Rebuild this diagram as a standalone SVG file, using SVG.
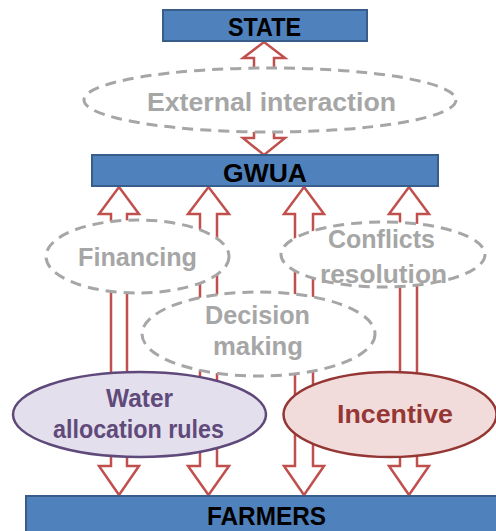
<svg xmlns="http://www.w3.org/2000/svg" width="496" height="531" viewBox="0 0 496 531">
<style>
.box{fill:#4F81BD;stroke:#385D8A;stroke-width:2}
.arr{fill:#FFFFFF;stroke:#C0504D;stroke-width:2.5;stroke-linejoin:miter}
.dash{fill:#FFFFFF;stroke:#A6A6A6;stroke-width:3;stroke-dasharray:11 7}
text{font-family:"Liberation Sans",Arial,sans-serif;font-weight:bold;font-size:25px;text-anchor:middle}
.bt{fill:#000000;font-size:26px}
.gt{fill:#A6A6A6}
.wt{fill:#604A7B}
.it{fill:#953735}
</style>
<rect width="496" height="531" fill="#FFFFFF"/>
<g id="connectors">
<path class="arr" d="M264,42 L285,58 L274,58 L274,138 L285,138 L264,155 L243,138 L254,138 L254,58 L243,58 Z"/>
<path class="arr" d="M119,187 L139,214 L127,214 L127,466 L139,466 L119,495 L99,466 L111,466 L111,214 L99,214 Z"/>
<path class="arr" d="M208.5,187 L229,214 L217,214 L217,466 L229,466 L208.5,495 L188,466 L200,466 L200,214 L188,214 Z"/>
<path class="arr" d="M304,187 L324,214 L313,214 L313,466 L324,466 L304,495 L284,466 L295,466 L295,214 L284,214 Z"/>
<path class="arr" d="M409,187 L429,214 L417,214 L417,466 L429,466 L409,495 L389,466 L400,466 L400,214 L389,214 Z"/>
</g>
<g id="state">
<rect class="box" x="163" y="10" width="204" height="31"/>
<text class="bt" x="264.5" y="36" textLength="73" lengthAdjust="spacingAndGlyphs">STATE</text>
</g>
<g id="gwua">
<rect class="box" x="92" y="155" width="346" height="31"/>
<text class="bt" x="265" y="182" textLength="84" lengthAdjust="spacingAndGlyphs">GWUA</text>
</g>
<g id="farmers">
<rect class="box" x="26" y="496" width="490" height="40"/>
<text class="bt" x="266.5" y="525" textLength="119" lengthAdjust="spacingAndGlyphs">FARMERS</text>
</g>
<g id="external">
<ellipse class="dash" cx="270" cy="100" rx="186" ry="32"/>
<text class="gt" x="271.5" y="111" textLength="249" lengthAdjust="spacingAndGlyphs">External interaction</text>
</g>
<g id="financing">
<ellipse class="dash" cx="137.5" cy="256.5" rx="91.5" ry="36.5"/>
<text class="gt" x="137.5" y="266" textLength="119" lengthAdjust="spacingAndGlyphs">Financing</text>
</g>
<g id="decision">
<ellipse class="dash" cx="258.5" cy="334" rx="116.5" ry="42"/>
<text class="gt" x="257.5" y="324" textLength="105" lengthAdjust="spacingAndGlyphs">Decision</text>
<text class="gt" x="258" y="355" textLength="90" lengthAdjust="spacingAndGlyphs">making</text>
</g>
<g id="conflicts">
<ellipse class="dash" cx="383" cy="254.5" rx="102" ry="32.5"/>
<text class="gt" x="381.5" y="248" textLength="107" lengthAdjust="spacingAndGlyphs">Conflicts</text>
<text class="gt" x="383.5" y="283" textLength="127" lengthAdjust="spacingAndGlyphs">resolution</text>
</g>
<g id="water">
<ellipse cx="139.5" cy="414.5" rx="126.5" ry="42.5" fill="#E4DFEC" stroke="#5F497A" stroke-width="2.5"/>
<text class="wt" x="139.5" y="407" textLength="67" lengthAdjust="spacingAndGlyphs">Water</text>
<text class="wt" x="138.5" y="438" textLength="171" lengthAdjust="spacingAndGlyphs">allocation rules</text>
</g>
<g id="incentive">
<ellipse cx="390" cy="414.5" rx="106.5" ry="42.5" fill="#F2DCDB" stroke="#943634" stroke-width="2.5"/>
<text class="it" x="395" y="423" textLength="116" lengthAdjust="spacingAndGlyphs">Incentive</text>
</g>
</svg>
